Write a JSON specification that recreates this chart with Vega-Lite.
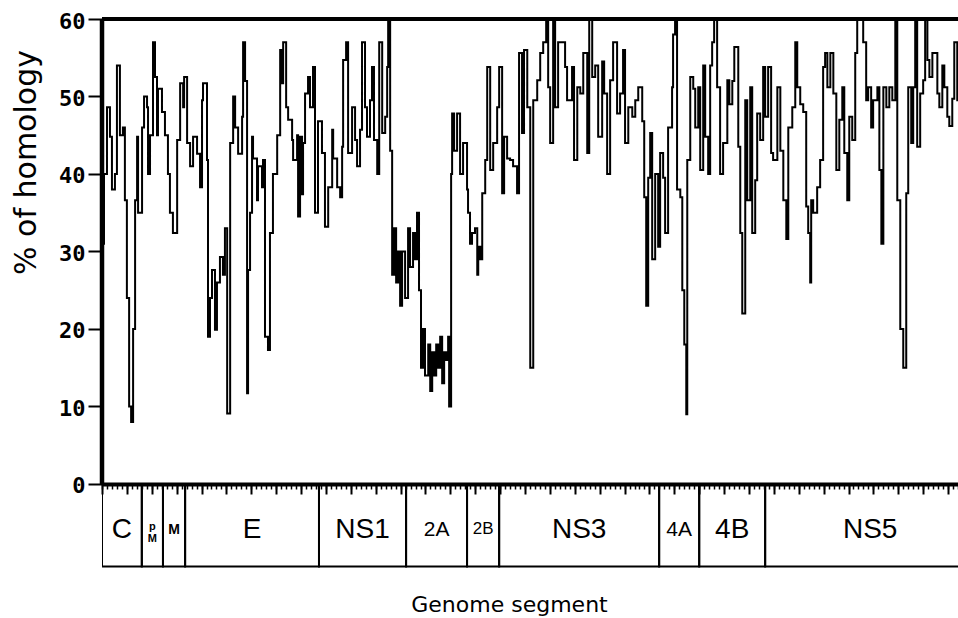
{
  "$schema": "https://vega.github.io/schema/vega-lite/v6.json",
  "width": 856,
  "height": 549,
  "autosize": {"type": "none"},
  "padding": {"left": 102, "top": 19, "right": 0, "bottom": 50},
  "background": "white",
  "view": {"stroke": null},
  "config": {"font": "DejaVu Sans"},
  "resolve": {"axis": {"x": "independent", "y": "independent"}},
  "datasets": {
    "homology": [
      {"pos":0,"homology":31},{"pos":8,"homology":40},{"pos":20,"homology":48.6},{"pos":32,"homology":44.8},{"pos":40,"homology":38},{"pos":52,"homology":40},{"pos":60,"homology":54},{"pos":72,"homology":45},{"pos":84,"homology":46},{"pos":92,"homology":36.6},{"pos":100,"homology":24},{"pos":109,"homology":10},{"pos":117,"homology":8},{"pos":125,"homology":20},{"pos":133,"homology":36.6},{"pos":141,"homology":44.8},{"pos":145,"homology":35},{"pos":161,"homology":46},{"pos":169,"homology":50},{"pos":181,"homology":48.6},{"pos":185,"homology":40},{"pos":193,"homology":45},{"pos":205,"homology":57},{"pos":213,"homology":52.5},{"pos":221,"homology":45},{"pos":225,"homology":51},{"pos":241,"homology":48},{"pos":253,"homology":45},{"pos":265,"homology":40},{"pos":273,"homology":35},{"pos":285,"homology":32.4},{"pos":302,"homology":44.4},{"pos":314,"homology":51.7},{"pos":326,"homology":48.6},{"pos":330,"homology":52.5},{"pos":342,"homology":44},{"pos":354,"homology":41},{"pos":366,"homology":44.8},{"pos":382,"homology":42.6},{"pos":394,"homology":38.3},{"pos":402,"homology":49.5},{"pos":406,"homology":51.7},{"pos":422,"homology":41.8},{"pos":426,"homology":19},{"pos":434,"homology":24},{"pos":442,"homology":27.6},{"pos":454,"homology":19.9},{"pos":462,"homology":26},{"pos":474,"homology":29.3},{"pos":486,"homology":27},{"pos":494,"homology":33},{"pos":503,"homology":9.1},{"pos":515,"homology":44},{"pos":527,"homology":50},{"pos":535,"homology":46},{"pos":547,"homology":42.6},{"pos":563,"homology":47.4},{"pos":567,"homology":57},{"pos":575,"homology":52},{"pos":583,"homology":11.7},{"pos":587,"homology":27.6},{"pos":595,"homology":35},{"pos":603,"homology":44.8},{"pos":607,"homology":42},{"pos":623,"homology":36.6},{"pos":627,"homology":41},{"pos":643,"homology":38.3},{"pos":647,"homology":41.8},{"pos":655,"homology":19},{"pos":667,"homology":17.3},{"pos":675,"homology":32.4},{"pos":687,"homology":40},{"pos":704,"homology":45},{"pos":716,"homology":56},{"pos":724,"homology":51.7},{"pos":728,"homology":57},{"pos":740,"homology":48.6},{"pos":748,"homology":47},{"pos":764,"homology":44.4},{"pos":768,"homology":41.8},{"pos":784,"homology":45},{"pos":788,"homology":34.5},{"pos":796,"homology":44.8},{"pos":804,"homology":37.4},{"pos":808,"homology":44},{"pos":816,"homology":50.4},{"pos":828,"homology":52.5},{"pos":836,"homology":48.6},{"pos":848,"homology":53.8},{"pos":856,"homology":35},{"pos":868,"homology":46.8},{"pos":884,"homology":42.7},{"pos":896,"homology":33.2},{"pos":909,"homology":38.3},{"pos":925,"homology":45.7},{"pos":929,"homology":42},{"pos":945,"homology":38.3},{"pos":957,"homology":37},{"pos":965,"homology":43.5},{"pos":969,"homology":54.7},{"pos":981,"homology":57},{"pos":989,"homology":42.7},{"pos":1005,"homology":48.6},{"pos":1017,"homology":44.4},{"pos":1025,"homology":41},{"pos":1037,"homology":45.7},{"pos":1045,"homology":57},{"pos":1057,"homology":48.6},{"pos":1065,"homology":44.8},{"pos":1077,"homology":49.5},{"pos":1085,"homology":53.8},{"pos":1093,"homology":44.4},{"pos":1106,"homology":40},{"pos":1114,"homology":57},{"pos":1126,"homology":45.3},{"pos":1138,"homology":47.4},{"pos":1146,"homology":53.8},{"pos":1150,"homology":60},{"pos":1158,"homology":43},{"pos":1166,"homology":27},{"pos":1174,"homology":33},{"pos":1182,"homology":26},{"pos":1190,"homology":30},{"pos":1198,"homology":23},{"pos":1206,"homology":30},{"pos":1218,"homology":24},{"pos":1230,"homology":33},{"pos":1238,"homology":28},{"pos":1250,"homology":32.4},{"pos":1258,"homology":29},{"pos":1266,"homology":35},{"pos":1274,"homology":25},{"pos":1282,"homology":15},{"pos":1290,"homology":20},{"pos":1298,"homology":14},{"pos":1311,"homology":18},{"pos":1319,"homology":12},{"pos":1327,"homology":17},{"pos":1335,"homology":14},{"pos":1343,"homology":18},{"pos":1351,"homology":15},{"pos":1359,"homology":19},{"pos":1367,"homology":13},{"pos":1375,"homology":17},{"pos":1383,"homology":16},{"pos":1391,"homology":19},{"pos":1395,"homology":10},{"pos":1403,"homology":40},{"pos":1407,"homology":47.8},{"pos":1415,"homology":43},{"pos":1427,"homology":47.8},{"pos":1439,"homology":40},{"pos":1451,"homology":44},{"pos":1467,"homology":38},{"pos":1471,"homology":35},{"pos":1479,"homology":31},{"pos":1487,"homology":32.4},{"pos":1499,"homology":33},{"pos":1508,"homology":27},{"pos":1512,"homology":30.6},{"pos":1520,"homology":29},{"pos":1528,"homology":37.5},{"pos":1540,"homology":41.8},{"pos":1548,"homology":53.8},{"pos":1560,"homology":40.5},{"pos":1572,"homology":44},{"pos":1588,"homology":48.6},{"pos":1596,"homology":53.8},{"pos":1608,"homology":37.5},{"pos":1616,"homology":44.8},{"pos":1628,"homology":42},{"pos":1640,"homology":41.8},{"pos":1652,"homology":41},{"pos":1668,"homology":37.5},{"pos":1676,"homology":55.6},{"pos":1688,"homology":45.3},{"pos":1696,"homology":56},{"pos":1709,"homology":48.6},{"pos":1721,"homology":15},{"pos":1733,"homology":49.5},{"pos":1749,"homology":52.1},{"pos":1761,"homology":55.6},{"pos":1773,"homology":57},{"pos":1785,"homology":60},{"pos":1793,"homology":51.2},{"pos":1801,"homology":44},{"pos":1813,"homology":60},{"pos":1821,"homology":48.6},{"pos":1833,"homology":57},{"pos":1849,"homology":57},{"pos":1861,"homology":53.8},{"pos":1869,"homology":49.5},{"pos":1889,"homology":53.8},{"pos":1897,"homology":41.8},{"pos":1910,"homology":51.2},{"pos":1922,"homology":50.4},{"pos":1934,"homology":55.6},{"pos":1950,"homology":42.7},{"pos":1958,"homology":60},{"pos":1970,"homology":52.5},{"pos":1982,"homology":54},{"pos":1994,"homology":44.8},{"pos":2010,"homology":54.5},{"pos":2018,"homology":50.4},{"pos":2030,"homology":40},{"pos":2042,"homology":52.1},{"pos":2054,"homology":57},{"pos":2070,"homology":47.8},{"pos":2082,"homology":50.4},{"pos":2094,"homology":56},{"pos":2102,"homology":44},{"pos":2115,"homology":48.6},{"pos":2131,"homology":47.4},{"pos":2143,"homology":49.5},{"pos":2155,"homology":51.2},{"pos":2171,"homology":46.8},{"pos":2179,"homology":37},{"pos":2187,"homology":23},{"pos":2195,"homology":39.5},{"pos":2203,"homology":45.3},{"pos":2211,"homology":29},{"pos":2223,"homology":40},{"pos":2235,"homology":30.6},{"pos":2243,"homology":42.7},{"pos":2255,"homology":39.5},{"pos":2263,"homology":32.4},{"pos":2275,"homology":46},{"pos":2291,"homology":51.2},{"pos":2295,"homology":58},{"pos":2303,"homology":60},{"pos":2311,"homology":38},{"pos":2324,"homology":37},{"pos":2332,"homology":25},{"pos":2340,"homology":18},{"pos":2348,"homology":9},{"pos":2352,"homology":41.8},{"pos":2364,"homology":52.5},{"pos":2376,"homology":51},{"pos":2384,"homology":46},{"pos":2396,"homology":51.2},{"pos":2404,"homology":40.5},{"pos":2416,"homology":54},{"pos":2424,"homology":44.8},{"pos":2436,"homology":40},{"pos":2444,"homology":54},{"pos":2452,"homology":57},{"pos":2460,"homology":60},{"pos":2468,"homology":60},{"pos":2472,"homology":51.2},{"pos":2484,"homology":40},{"pos":2496,"homology":44},{"pos":2513,"homology":52.1},{"pos":2521,"homology":49},{"pos":2533,"homology":52},{"pos":2541,"homology":56.4},{"pos":2553,"homology":56.4},{"pos":2557,"homology":43.5},{"pos":2565,"homology":32.4},{"pos":2573,"homology":22},{"pos":2585,"homology":49.5},{"pos":2593,"homology":36.6},{"pos":2605,"homology":51.2},{"pos":2613,"homology":32.4},{"pos":2625,"homology":39.2},{"pos":2633,"homology":47.8},{"pos":2645,"homology":44.4},{"pos":2657,"homology":53.8},{"pos":2665,"homology":47.4},{"pos":2677,"homology":53.8},{"pos":2689,"homology":42.7},{"pos":2697,"homology":41.8},{"pos":2714,"homology":51.2},{"pos":2726,"homology":43},{"pos":2738,"homology":36.6},{"pos":2750,"homology":31.6},{"pos":2758,"homology":46},{"pos":2774,"homology":48.6},{"pos":2786,"homology":57},{"pos":2794,"homology":51.2},{"pos":2806,"homology":49},{"pos":2818,"homology":48},{"pos":2830,"homology":35.8},{"pos":2838,"homology":32.4},{"pos":2846,"homology":26},{"pos":2850,"homology":36.6},{"pos":2858,"homology":35},{"pos":2874,"homology":38.3},{"pos":2886,"homology":41.8},{"pos":2898,"homology":53.8},{"pos":2906,"homology":55.6},{"pos":2915,"homology":51.2},{"pos":2927,"homology":55.6},{"pos":2939,"homology":50.4},{"pos":2951,"homology":40.5},{"pos":2963,"homology":47},{"pos":2975,"homology":51.2},{"pos":2983,"homology":42.7},{"pos":2995,"homology":36.6},{"pos":3003,"homology":47.4},{"pos":3015,"homology":44.4},{"pos":3027,"homology":55.6},{"pos":3035,"homology":60},{"pos":3047,"homology":60},{"pos":3059,"homology":57},{"pos":3071,"homology":49.5},{"pos":3079,"homology":51.2},{"pos":3091,"homology":46},{"pos":3099,"homology":49.5},{"pos":3116,"homology":51.2},{"pos":3124,"homology":40.5},{"pos":3132,"homology":31},{"pos":3140,"homology":51.2},{"pos":3152,"homology":48.6},{"pos":3164,"homology":51.2},{"pos":3176,"homology":49.5},{"pos":3188,"homology":60},{"pos":3196,"homology":36.6},{"pos":3208,"homology":20},{"pos":3220,"homology":15},{"pos":3232,"homology":37.5},{"pos":3240,"homology":51.2},{"pos":3252,"homology":44},{"pos":3260,"homology":51.2},{"pos":3268,"homology":60},{"pos":3276,"homology":43.5},{"pos":3288,"homology":50.4},{"pos":3300,"homology":52.1},{"pos":3308,"homology":60},{"pos":3317,"homology":54.7},{"pos":3325,"homology":52.5},{"pos":3337,"homology":55.6},{"pos":3345,"homology":55.6},{"pos":3357,"homology":50.4},{"pos":3365,"homology":48.6},{"pos":3377,"homology":54},{"pos":3385,"homology":51.2},{"pos":3397,"homology":47.4},{"pos":3405,"homology":46.2},{"pos":3417,"homology":49.7},{"pos":3425,"homology":57},{"pos":3437,"homology":49.5},{"pos":3440,"homology":52}
    ],
    "segments": [
      {"name":"C","label":"C","start":0,"end":160},
      {"name":"pM","label":"p\nM","start":160,"end":245},
      {"name":"M","label":"M","start":245,"end":334},
      {"name":"E","label":"E","start":334,"end":872},
      {"name":"NS1","label":"NS1","start":872,"end":1222},
      {"name":"2A","label":"2A","start":1222,"end":1467},
      {"name":"2B","label":"2B","start":1467,"end":1596},
      {"name":"NS3","label":"NS3","start":1596,"end":2239},
      {"name":"4A","label":"4A","start":2239,"end":2400},
      {"name":"4B","label":"4B","start":2400,"end":2665},
      {"name":"NS5","label":"NS5","start":2665,"end":3509}
    ]
  },
  "layer": [
    {
      "data": {"name": "segments"},
      "mark": {"type": "rect", "filled": false, "stroke": "black", "strokeWidth": 2, "clip": true},
      "encoding": {
        "x": {"field": "start", "type": "quantitative",
          "scale": {"domain": [0, 3440], "nice": false, "zero": false},
          "axis": {"orient": "bottom", "offset": -84, "tickCount": 34, "labels": false, "domain": false, "grid": false, "ticks": true, "tickSize": 10, "tickWidth": 2, "tickColor": "black", "title": null}},
        "x2": {"field": "end"},
        "y": {"datum": 0, "type": "quantitative", "scale": {"domain": [-10.84, 60], "nice": false, "zero": false}, "axis": null},
        "y2": {"datum": -10.65}
      }
    },
    {
      "data": {"name": "segments"},
      "transform": [{"filter": "indexof(['C','E','NS1','NS3','4B','NS5'], datum.name) >= 0"}, {"calculate": "(datum.start + datum.end) / 2", "as": "mid"}],
      "mark": {"type": "text", "font": "Liberation Sans", "fontSize": 28, "color": "black", "baseline": "middle", "align": "center"},
      "encoding": {
        "x": {"field": "mid", "type": "quantitative", "axis": null},
        "y": {"datum": -6.0, "type": "quantitative", "axis": null},
        "text": {"field": "label"}
      }
    },
    {
      "data": {"name": "segments"},
      "transform": [{"filter": "indexof(['2A','4A'], datum.name) >= 0"}, {"calculate": "(datum.start + datum.end) / 2", "as": "mid"}],
      "mark": {"type": "text", "font": "Liberation Sans", "fontSize": 21, "color": "black", "baseline": "middle", "align": "center"},
      "encoding": {
        "x": {"field": "mid", "type": "quantitative", "axis": null},
        "y": {"datum": -5.9, "type": "quantitative", "axis": null},
        "text": {"field": "label"}
      }
    },
    {
      "data": {"name": "segments"},
      "transform": [{"filter": "datum.name == '2B'"}, {"calculate": "(datum.start + datum.end) / 2", "as": "mid"}],
      "mark": {"type": "text", "font": "Liberation Sans", "fontSize": 17, "color": "black", "baseline": "middle", "align": "center"},
      "encoding": {
        "x": {"field": "mid", "type": "quantitative", "axis": null},
        "y": {"datum": -5.8, "type": "quantitative", "axis": null},
        "text": {"field": "label"}
      }
    },
    {
      "data": {"name": "segments"},
      "transform": [{"filter": "datum.name == 'M'"}, {"calculate": "(datum.start + datum.end) / 2", "as": "mid"}],
      "mark": {"type": "text", "font": "Liberation Sans", "fontSize": 14, "fontWeight": "bold", "color": "black", "baseline": "middle", "align": "center"},
      "encoding": {
        "x": {"field": "mid", "type": "quantitative", "axis": null},
        "y": {"datum": -5.9, "type": "quantitative", "axis": null},
        "text": {"field": "label"}
      }
    },
    {
      "data": {"name": "segments"},
      "transform": [{"filter": "datum.name == 'pM'"}, {"calculate": "(datum.start + datum.end) / 2", "as": "mid"}],
      "mark": {"type": "text", "font": "Liberation Sans", "fontSize": 11, "fontWeight": "bold", "color": "black", "baseline": "middle", "align": "center", "lineBreak": "\n", "lineHeight": 12},
      "encoding": {
        "x": {"field": "mid", "type": "quantitative", "axis": null},
        "y": {"datum": -5.6, "type": "quantitative", "axis": null},
        "text": {"field": "label"}
      }
    },
    {
      "data": {"name": "homology"},
      "mark": {"type": "line", "interpolate": "step-after", "color": "black", "strokeWidth": 2, "clip": true},
      "encoding": {
        "x": {"field": "pos", "type": "quantitative",
          "axis": {"orient": "bottom", "offset": -84, "tickCount": 172, "labels": false, "grid": false, "domain": true, "domainColor": "black", "domainWidth": 4, "ticks": true, "tickSize": 5, "tickWidth": 1.5, "tickColor": "black",
            "title": "Genome segment", "titleFont": "DejaVu Sans", "titleFontSize": 22, "titleFontWeight": "normal", "titleColor": "black", "titleX": 407, "titleY": 127, "titleAlign": "center", "titleBaseline": "alphabetic"}},
        "y": {"field": "homology", "type": "quantitative",
          "axis": {"orient": "left", "values": [0, 10, 20, 30, 40, 50, 60], "domain": false, "grid": false, "ticks": true, "tickSize": 14, "tickWidth": 2, "tickColor": "black",
            "labelFont": "DejaVu Sans Mono", "labelFontSize": 22, "labelFontWeight": "bold", "labelColor": "black", "labelPadding": 3, "labelOffset": 2,
            "title": "% of homology", "titleFont": "DejaVu Sans", "titleFontSize": 30, "titleFontWeight": "normal", "titleColor": "black", "titleAngle": -90, "titleX": -76, "titleY": 143, "titleAlign": "center", "titleBaseline": "middle"}}
      }
    },
    {
      "data": {"values": [{}]},
      "mark": {"type": "rule", "color": "black", "strokeWidth": 4.5},
      "encoding": {
        "x": {"datum": 0, "type": "quantitative", "axis": null},
        "y": {"datum": 0, "type": "quantitative", "axis": null},
        "y2": {"datum": 60}
      }
    },
    {
      "data": {"values": [{}]},
      "mark": {"type": "rule", "color": "black", "strokeWidth": 4},
      "encoding": {
        "x": {"datum": 0, "type": "quantitative", "axis": null},
        "x2": {"datum": 3440},
        "y": {"datum": 60, "type": "quantitative", "axis": null}
      }
    }
  ]
}
